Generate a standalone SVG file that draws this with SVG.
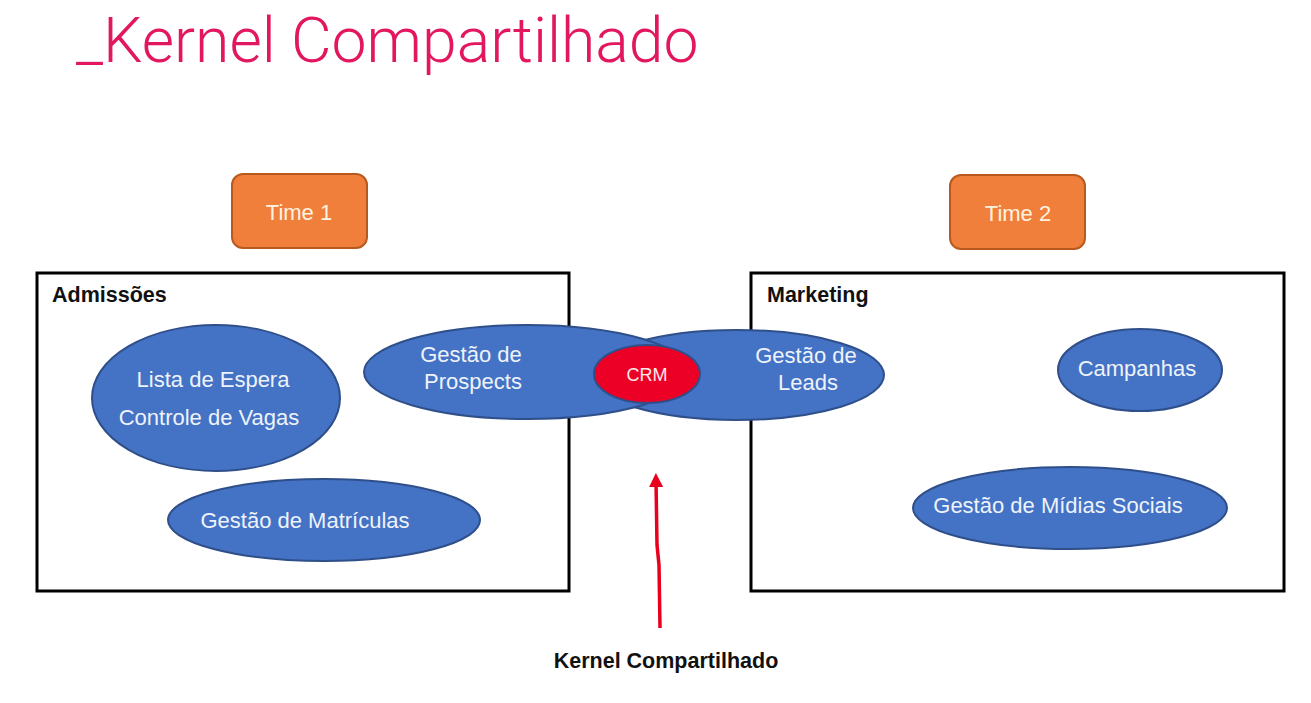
<svg xmlns="http://www.w3.org/2000/svg" width="1311" height="703" viewBox="0 0 1311 703">
  <defs>
    <style>
      .title { font-family: Roboto, "Liberation Sans", sans-serif; font-weight: 300; font-size: 62.5px; fill: #E2175F; }
      .team rect { fill: #F07F3C; stroke: #B85A1E; stroke-width: 2; }
      .team text { font-family: "Liberation Sans", Arial, sans-serif; font-size: 22px; fill: #FFF3E0; text-anchor: middle; }
      .ctx rect { fill: none; stroke: #000; stroke-width: 3; }
      .ctx text { font-family: "Liberation Sans", Arial, sans-serif; font-weight: bold; font-size: 21.5px; fill: #111; }
      .sub ellipse { fill: #4472C4; stroke: #2F4F8A; stroke-width: 2; }
      .sub text { font-family: "Liberation Sans", Arial, sans-serif; font-size: 22px; fill: #EEF3FB; text-anchor: middle; }
      .crm ellipse { fill: #EC0025; stroke: #2F4F8A; stroke-width: 2; }
      .crm text { font-family: "Liberation Sans", Arial, sans-serif; font-size: 18px; fill: #FFE8E8; text-anchor: middle; }
      .label { font-family: "Liberation Sans", Arial, sans-serif; font-weight: bold; font-size: 21.5px; fill: #111; text-anchor: middle; }
    </style>
    <marker id="arrowRed" viewBox="0 0 10 10" refX="5" refY="5" markerWidth="4.5" markerHeight="4" orient="auto-start-reverse" markerUnits="strokeWidth">
      <path d="M0,0 L10,5 L0,10 z" fill="#E8001C"/>
    </marker>
  </defs>

  <rect width="1311" height="703" fill="#fff"/>

  <text class="title" x="76" y="62">_Kernel Compartilhado</text>

  <!-- team labels -->
  <g id="time1" class="team">
    <rect x="232" y="174" width="135" height="74" rx="11"/>
    <text x="299" y="220">Time 1</text>
  </g>
  <g id="time2" class="team">
    <rect x="950" y="175" width="135" height="74" rx="11"/>
    <text x="1018" y="221">Time 2</text>
  </g>

  <!-- bounded contexts -->
  <g id="admissoes" class="ctx">
    <rect x="37" y="273" width="532" height="318"/>
    <text x="52" y="302">Admissões</text>
  </g>
  <g id="marketing" class="ctx">
    <rect x="751" y="273" width="533" height="318"/>
    <text x="767" y="302">Marketing</text>
  </g>

  <!-- subdomains -->
  <g id="lista-controle" class="sub">
    <ellipse cx="216" cy="398" rx="124" ry="73"/>
    <text x="213" y="387">Lista de Espera</text>
    <text x="209" y="425">Controle de Vagas</text>
  </g>
  <g id="matriculas" class="sub">
    <ellipse cx="324" cy="520" rx="156" ry="41"/>
    <text x="305" y="528">Gestão de Matrículas</text>
  </g>
  <g id="leads" class="sub">
    <ellipse cx="737" cy="375" rx="147" ry="45"/>
    <text x="806" y="363">Gestão de</text>
    <text x="808" y="390">Leads</text>
  </g>
  <g id="prospects" class="sub">
    <ellipse cx="527" cy="372" rx="163" ry="47"/>
    <text x="471" y="362">Gestão de</text>
    <text x="473" y="389">Prospects</text>
  </g>
  <g id="crm" class="crm">
    <ellipse cx="647" cy="374" rx="53" ry="29"/>
    <text x="647" y="381">CRM</text>
  </g>
  <g id="campanhas" class="sub">
    <ellipse cx="1140" cy="370" rx="82" ry="41"/>
    <text x="1137" y="376">Campanhas</text>
  </g>
  <g id="midias" class="sub">
    <ellipse cx="1070" cy="508" rx="157" ry="41"/>
    <text x="1058" y="513">Gestão de Mídias Sociais</text>
  </g>

  <!-- connectors -->
  <g id="connectors">
    <path d="M660,628 L659,565 L657,545 L656,480" fill="none" stroke="#E8001C" stroke-width="3.5" marker-end="url(#arrowRed)"/>
  </g>

  <text id="kernel-label" class="label" x="666" y="668">Kernel Compartilhado</text>
</svg>
